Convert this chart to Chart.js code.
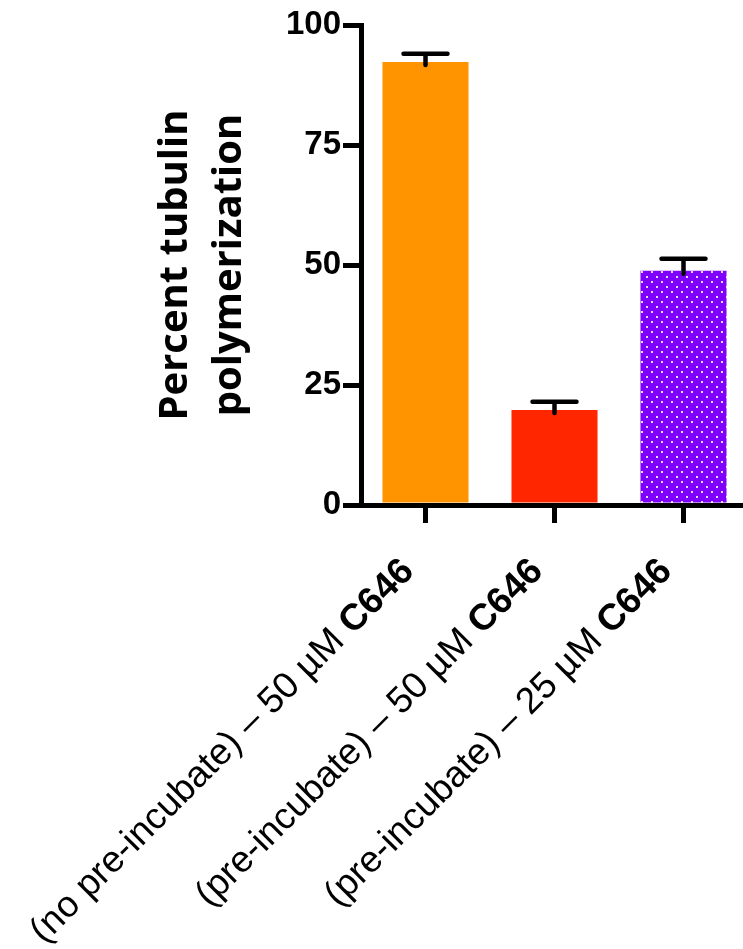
<!DOCTYPE html>
<html>
<head>
<meta charset="utf-8">
<script src="https://cdn.jsdelivr.net/npm/chart.js@4.4.1/dist/chart.umd.min.js"></script>
<style>
  html, body { margin: 0; padding: 0; background: #fff; overflow: hidden; }
  #wrap { width: 748px; height: 949px; }
</style>
</head>
<body>
<div id="wrap"><canvas id="c" width="748" height="949"></canvas></div>
<script>
// ---- data ----
const labelPrefixes = ['(no pre-incubate) \u2013 50 \u00b5M ', '(pre-incubate) \u2013 50 \u00b5M ', '(pre-incubate) \u2013 25 \u00b5M '];
const labelCompound = ['C646', 'C646', 'C646'];
const categories = labelPrefixes.map((p, i) => p + labelCompound[i]);
const values = [92.3, 19.8, 48.8];
const errors = [1.7, 1.7, 2.5];
const yTicks = [0, 25, 50, 75, 100];
const yTitle = ['Percent tubulin', 'polymerization'];

// ---- styling ----
function dotPattern() {
  const c = document.createElement('canvas');
  c.width = 10; c.height = 10;
  const g = c.getContext('2d');
  g.fillStyle = '#8000ff';
  g.fillRect(0, 0, 10, 10);
  g.fillStyle = '#dcdcdc';
  g.fillRect(1, 1, 2, 2);
  g.fillRect(6, 6, 2, 2);
  return g.createPattern(c, 'repeat');
}
const colors = ['#ff9300', '#ff2600', dotPattern()];

const errorBars = {
  id: 'errorBars',
  afterDatasetsDraw(chart) {
    const ctx = chart.ctx;
    const meta = chart.getDatasetMeta(0);
    const y = chart.scales.y;
    ctx.save();
    ctx.strokeStyle = '#000';
    ctx.lineWidth = 4.5;
    ctx.lineCap = 'round';
    meta.data.forEach((bar, i) => {
      const top = y.getPixelForValue(values[i] + errors[i]);
      ctx.beginPath();
      ctx.moveTo(bar.x, bar.y + 3);
      ctx.lineTo(bar.x, top);
      ctx.moveTo(bar.x - 22, top);
      ctx.lineTo(bar.x + 22, top);
      ctx.stroke();
    });
    ctx.restore();
  }
};

const xLabels = {
  id: 'xLabels',
  afterDraw(chart) {
    const ctx = chart.ctx;
    const xs = chart.scales.x;
    const regular = '37px "Liberation Sans", Arial, sans-serif';
    const bold = 'bold 37px "Liberation Sans", Arial, sans-serif';
    ctx.save();
    ctx.fillStyle = '#000';
    ctx.textBaseline = 'alphabetic';
    ctx.textAlign = 'right';
    categories.forEach((_, i) => {
      const px = xs.getPixelForValue(i);
      ctx.save();
      ctx.translate(px - 10, xs.top + 68);
      ctx.rotate(-Math.PI / 4);
      ctx.font = bold;
      ctx.fillText(labelCompound[i], 0, 0);
      const bw = ctx.measureText(labelCompound[i]).width;
      ctx.font = regular;
      ctx.fillText(labelPrefixes[i], -bw, 0);
      ctx.restore();
    });
    ctx.restore();
  }
};

new Chart(document.getElementById('c'), {
  type: 'bar',
  data: {
    labels: categories,
    datasets: [{
      data: values,
      backgroundColor: colors,
      borderWidth: 0,
      barPercentage: 0.667,
      categoryPercentage: 1.0
    }]
  },
  options: {
    responsive: false,
    animation: false,
    devicePixelRatio: 1,
    layout: { padding: { top: 25, left: 0, right: 0, bottom: 0 } },
    plugins: { legend: { display: false }, tooltip: { enabled: false } },
    scales: {
      x: {
        type: 'category',
        offset: true,
        grid: { display: true, drawOnChartArea: false, drawTicks: true, tickLength: 18, lineWidth: 5, color: '#000', offset: false },
        border: { display: true, width: 5, color: '#000' },
        ticks: { display: false },
        afterFit(s) { s.height = 444; }
      },
      y: {
        min: 0, max: 100,
        afterBuildTicks(s) { s.ticks = yTicks.map(v => ({ value: v })); },
        ticks: {
          color: '#000',
          padding: 2,
          font: { family: '"Liberation Sans", Arial, sans-serif', size: 33, weight: 'bold' }
        },
        grid: { display: true, drawOnChartArea: false, drawTicks: true, tickLength: 18, lineWidth: 5, color: '#000' },
        border: { display: true, width: 5, color: '#000' },
        title: {
          display: true,
          text: yTitle,
          color: '#000',
          font: { family: '"Open Sans", Lato, sans-serif', size: 40, weight: 'bold', lineHeight: 1.35 },
          padding: { top: 149, bottom: 0 }
        },
        afterFit(s) { s.width = 361; }
      }
    }
  },
  plugins: [errorBars, xLabels]
});
</script>
</body>
</html>
